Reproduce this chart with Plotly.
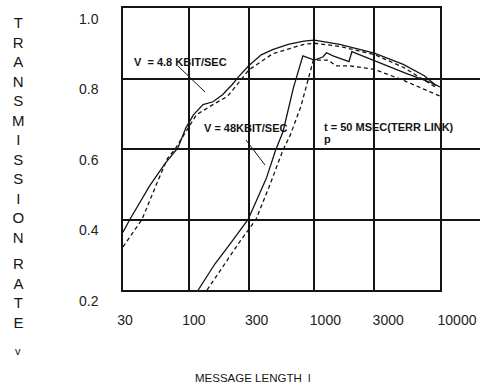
import math
import plotly.graph_objects as go

# ---- data ----
x_ticks = [30, 100, 300, 1000, 3000, 10000]
x_tick_labels = ["30", "100", "300", "1000", "3000", "10000"]
y_ticks = [0.2, 0.4, 0.6, 0.8, 1.0]
y_tick_labels = ["0.2", "0.4", "0.6", "0.8", "1.0"]

# V = 4.8 kbit/s
len_48k_solid = [30, 34, 49, 65, 82, 95, 109, 130, 156, 186, 222, 251, 300, 378, 465, 620, 826, 1000, 1590, 3000, 5100, 7500, 9300]
rate_48k_solid = [0.364, 0.40, 0.496, 0.559, 0.603, 0.66, 0.697, 0.726, 0.734, 0.754, 0.783, 0.806, 0.836, 0.867, 0.882, 0.897, 0.906, 0.909, 0.897, 0.872, 0.84, 0.808, 0.78]
len_48k_dash = [30, 42.5, 56, 68, 78, 97, 115, 156, 203, 251, 300, 465, 826, 1000, 1590, 3000, 5100, 7500, 9300]
rate_48k_dash = [0.322, 0.40, 0.504, 0.574, 0.60, 0.654, 0.697, 0.726, 0.749, 0.789, 0.824, 0.87, 0.897, 0.90, 0.891, 0.868, 0.832, 0.795, 0.775]

# V = 48 kbit/s
len_48_solid = [119, 161, 218, 297, 414, 492, 563, 682, 810, 1000, 1167, 1250, 1409, 1887, 1988, 3000, 5310, 8260, 10000]
rate_48_solid = [0.2, 0.273, 0.335, 0.40, 0.516, 0.597, 0.649, 0.774, 0.864, 0.852, 0.861, 0.873, 0.864, 0.848, 0.876, 0.85, 0.815, 0.79, 0.776]
len_48_dash = [140, 193, 256, 343, 440, 563, 644, 780, 859, 909, 982, 1294, 1484, 1887, 3000, 5100, 10000]
rate_48_dash = [0.2, 0.273, 0.338, 0.40, 0.496, 0.597, 0.64, 0.72, 0.774, 0.806, 0.852, 0.852, 0.836, 0.836, 0.826, 0.795, 0.75]

INK = "#141414"

# geometry (pixels)
PLOT_L, PLOT_R_GRID, PLOT_T, PLOT_B, W, H = 123, 440, 8, 290, 480, 386
PW = W - PLOT_L           # paper width (plot area extends to right edge)
PH = PLOT_B - PLOT_T
grid_frac = (PLOT_R_GRID - PLOT_L) / PW

def px(x):
    return (x - PLOT_L) / PW

def py(y):
    return (PLOT_B - y) / PH

# label axis: tick labels of the scanned original drift to the right of the grid
lab_first, lab_last = 125, 457
ppd = (lab_last - lab_first) / (math.log10(x_ticks[-1]) - math.log10(x_ticks[0]))
lab_r0 = math.log10(x_ticks[0]) - (lab_first - PLOT_L) / ppd
lab_r1 = lab_r0 + PW / ppd

fig = go.Figure()

def add(xs, ys, dash):
    fig.add_trace(go.Scatter(x=xs, y=ys, mode="lines",
                             line=dict(color=INK, width=1.3, dash=dash),
                             showlegend=False, hoverinfo="skip"))

add(len_48k_solid, rate_48k_solid, "solid")
add(len_48k_dash, rate_48k_dash, "4px,3px")
add(len_48_solid, rate_48_solid, "solid")
add(len_48_dash, rate_48_dash, "4px,3px")
fig.add_trace(go.Scatter(x=[], y=[], xaxis="x2", yaxis="y", showlegend=False, hoverinfo="skip"))

ann_font = dict(family="Liberation Sans, Arial, sans-serif", size=11, color=INK)
title_font = dict(family="Liberation Sans, Arial, sans-serif", size=15, color=INK)

annotations = [
    dict(text="<b>V  = 4.8 KBIT/SEC</b>", x=px(132), y=py(62), xanchor="left", yanchor="middle", font=ann_font),
    dict(text="<b>V = 48KBIT/SEC</b>", x=px(202), y=py(128), xanchor="left", yanchor="middle", font=ann_font),
    dict(text="<b>t = 50 MSEC(TERR LINK)</b>", x=px(322), y=py(127), xanchor="left", yanchor="middle", font=ann_font),
    dict(text="<b>p</b>", x=px(327), y=py(139), xanchor="center", yanchor="middle", font=ann_font),
    dict(text="T<br>R<br>A<br>N<br>S<br>M<br>I<br>S<br>S<br>I<br>O<br>N", x=px(18), y=py(130),
         xanchor="center", yanchor="middle", font=title_font),
    dict(text="R<br>A<br>T<br>E", x=px(18), y=py(292.5), xanchor="center", yanchor="middle", font=title_font),
    dict(text="v", x=px(18), y=py(351), xanchor="center", yanchor="middle",
         font=dict(family="Liberation Sans, Arial, sans-serif", size=11, color=INK)),
    dict(text="MESSAGE LENGTH  l", x=px(193), y=py(378), xanchor="left", yanchor="middle",
         font=dict(family="Liberation Sans, Arial, sans-serif", size=11.5, color=INK)),
]
for a in annotations:
    a.update(xref="paper", yref="paper", showarrow=False)

shapes = [
    dict(type="line", xref="paper", yref="paper", x0=px(178), y0=py(66), x1=px(205), y1=py(92),
         line=dict(color=INK, width=1)),
    dict(type="line", xref="paper", yref="paper", x0=px(246), y0=py(140), x1=px(265), y1=py(165),
         line=dict(color=INK, width=1)),
]

tick_font = dict(family="Liberation Sans, Arial, sans-serif", size=14, color="#222222")

fig.update_layout(
    width=W, height=H,
    margin=dict(l=PLOT_L, r=0, t=PLOT_T, b=H - PLOT_B),
    paper_bgcolor="white", plot_bgcolor="rgba(0,0,0,0)",
    annotations=annotations, shapes=shapes,
    xaxis=dict(type="log", range=[math.log10(x_ticks[0]), math.log10(x_ticks[-1])],
               domain=[0, grid_frac], anchor="y",
               tickvals=x_ticks, showticklabels=False,
               showgrid=True, gridcolor=INK, gridwidth=1.5, zeroline=False,
               showline=True, linecolor=INK, linewidth=1.5, mirror=True, ticks=""),
    xaxis2=dict(type="log", range=[lab_r0, lab_r1], domain=[0, 1], anchor="y",
                tickvals=x_ticks, ticktext=x_tick_labels, showgrid=False, zeroline=False,
                showline=False, ticks="", tickfont=tick_font, ticklabelstandoff=20),
    yaxis=dict(range=[0.2, 1.0], tickvals=y_ticks, ticktext=y_tick_labels, anchor="x",
               showgrid=True, gridcolor=INK, gridwidth=1.5, zeroline=False,
               showline=True, linecolor=INK, linewidth=1.5, mirror=True,
               ticks="", tickfont=tick_font, ticklabelstandoff=20, ticklabelshift=11,
               ticklabeloverflow="allow"),
)

fig.write_html("out.html", config={"displayModeBar": False},
               post_script="document.body.style.margin='0';")
